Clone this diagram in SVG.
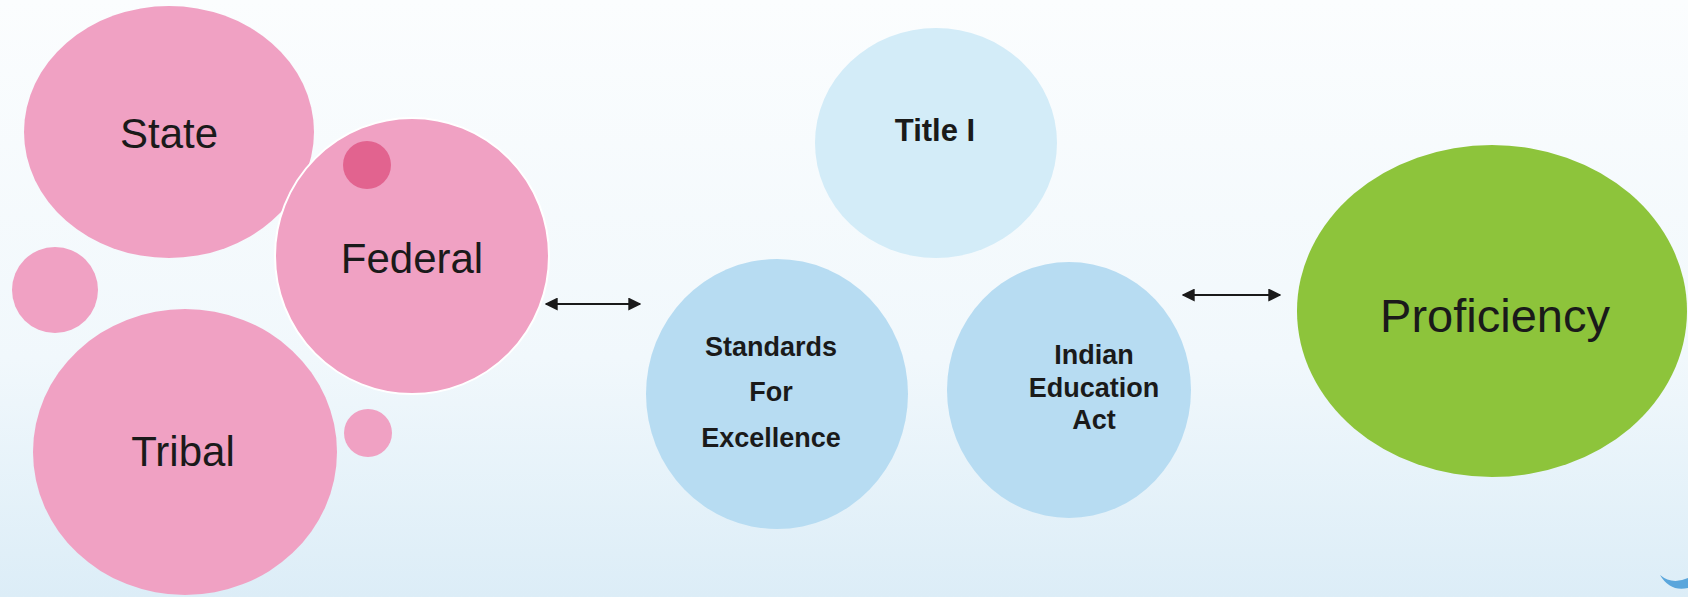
<svg xmlns="http://www.w3.org/2000/svg" width="1688" height="597" viewBox="0 0 1688 597">
<style>
.pink{fill:#f0a1c3}
.blue{fill:#b7dcf2}
.lbl{font-family:"Liberation Sans",Arial,sans-serif;fill:#1a1a1a;text-anchor:middle}
.big{font-size:42px}
.bold{font-weight:bold;font-size:27px}
.conn{stroke:#1a1a1a;stroke-width:2;fill:none}
</style>
<defs>
<linearGradient id="bg" x1="0" y1="0" x2="0" y2="1">
<stop offset="0" stop-color="#fbfdfe"/>
<stop offset="0.6" stop-color="#f1f8fc"/>
<stop offset="1" stop-color="#dcedf7"/>
</linearGradient>
<marker id="ah" viewBox="0 0 10 10" refX="9" refY="5" markerWidth="6.5" markerHeight="6.5" orient="auto-start-reverse">
<path d="M0,0 L10,5 L0,10 z" fill="#1a1a1a"/>
</marker>
</defs>
<rect width="1688" height="597" fill="url(#bg)"/>
<path d="M1660,575 Q1672,585 1688,578 L1688,588 Q1670,592 1660,575 z" fill="#5aa6dc"/>

<g id="state"><ellipse class="pink" cx="169" cy="132" rx="145" ry="126"/><text class="lbl big" x="169" y="148">State</text></g>
<g id="dot-left"><circle class="pink" cx="55" cy="290" r="43"/></g>
<g id="tribal"><ellipse class="pink" cx="185" cy="452" rx="152" ry="143"/><text class="lbl big" x="183" y="466">Tribal</text></g>
<g id="federal"><ellipse class="pink" cx="412" cy="256" rx="137" ry="138" stroke="#ffffff" stroke-width="2"/><circle cx="367" cy="165" r="24" fill="#e2638f"/><text class="lbl big" x="412" y="273">Federal</text></g>
<g id="dot-bottom"><circle class="pink" cx="368" cy="433" r="24"/></g>

<g id="title1"><ellipse cx="936" cy="143" rx="121" ry="115" fill="#d3ecf8"/><text class="lbl" style="font-weight:bold;font-size:31px" x="935" y="141">Title I</text></g>
<g id="standards"><ellipse class="blue" cx="777" cy="394" rx="131" ry="135"/><text class="lbl bold" x="771"><tspan x="771" y="356">Standards</tspan><tspan x="771" y="401">For</tspan><tspan x="771" y="447">Excellence</tspan></text></g>
<g id="iea"><ellipse class="blue" cx="1069" cy="390" rx="122" ry="128"/><text class="lbl bold" x="1094"><tspan x="1094" y="364">Indian</tspan><tspan x="1094" y="397">Education</tspan><tspan x="1094" y="429">Act</tspan></text></g>

<g id="proficiency"><ellipse cx="1492" cy="311" rx="195" ry="166" fill="#8dc43b"/><text class="lbl" style="font-size:47px" x="1495" y="332">Proficiency</text></g>

<g id="connectors">
<line class="conn" x1="546" y1="304" x2="640" y2="304" marker-start="url(#ah)" marker-end="url(#ah)"/>
<line class="conn" x1="1183" y1="295" x2="1280" y2="295" marker-start="url(#ah)" marker-end="url(#ah)"/>
</g>
</svg>
